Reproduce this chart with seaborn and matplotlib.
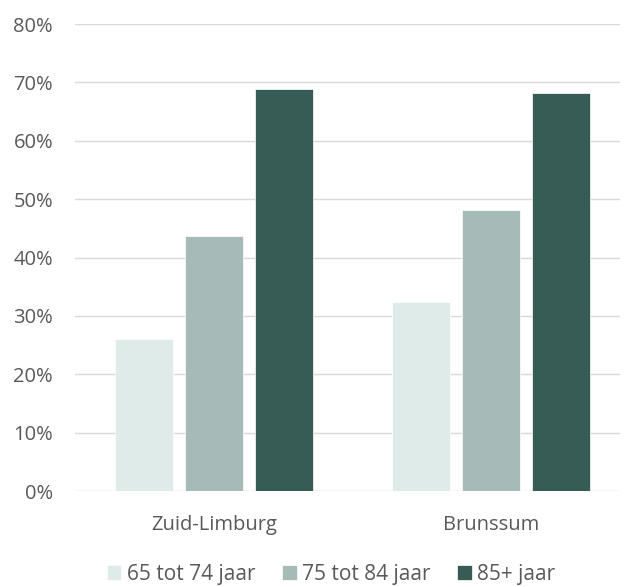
import matplotlib

matplotlib.use("Agg")
import matplotlib.pyplot as plt
import pandas as pd
import seaborn as sns

regions = ["Zuid-Limburg", "Brunssum"]
age_groups = ["65 tot 74 jaar", "75 tot 84 jaar", "85+ jaar"]
share_65_74 = [26.1, 32.4]
share_75_84 = [43.7, 48.1]
share_85_plus = [68.8, 68.2]
y_ticks = [0, 10, 20, 30, 40, 50, 60, 70, 80]
colors = ["#DFEBE8", "#A6BAB7", "#375B55"]

df = pd.DataFrame(
    {
        "region": regions * 3,
        "age": [g for g in age_groups for _ in regions],
        "share": share_65_74 + share_75_84 + share_85_plus,
    }
)

sns.set_style("white")
plt.rcParams["font.family"] = ["Open Sans", "DejaVu Sans"]
text_color = "#595959"

fig = plt.figure(figsize=(6.27, 5.87), dpi=100)
ax = fig.add_axes([0.120, 0.1635, 0.869, 0.7955])

sns.barplot(
    data=df,
    x="region",
    y="share",
    hue="age",
    order=regions,
    hue_order=age_groups,
    palette=colors,
    saturation=1,
    width=0.756,
    gap=0.17,
    edgecolor="white",
    linewidth=0.5,
    ax=ax,
)

ax.set_ylim(0, 80)
ax.set_xlim(-0.5, 1.465)
ax.set_yticks(y_ticks)
ax.set_yticklabels([f"{t}%" for t in y_ticks])
ax.yaxis.grid(True, color="#D9D9D9", linewidth=1)
ax.set_axisbelow(True)
for side in ["top", "right", "left", "bottom"]:
    ax.spines[side].set_visible(False)
ax.tick_params(axis="both", length=0, colors=text_color, labelsize=14.5)
ax.tick_params(axis="x", pad=17)
ax.tick_params(axis="y", pad=16)
ax.set_xlabel("")
ax.set_ylabel("")

handles, labels = ax.get_legend_handles_labels()
ax.legend_.remove()
fig.legend(
    handles,
    labels,
    loc="lower center",
    bbox_to_anchor=(0.528, -0.028),
    ncol=3,
    frameon=False,
    fontsize=15,
    labelcolor=text_color,
    handlelength=0.7,
    handleheight=0.7,
    handletextpad=0.25,
    columnspacing=1.3,
)

plt.savefig("out.png", dpi=100)
plt.close()
